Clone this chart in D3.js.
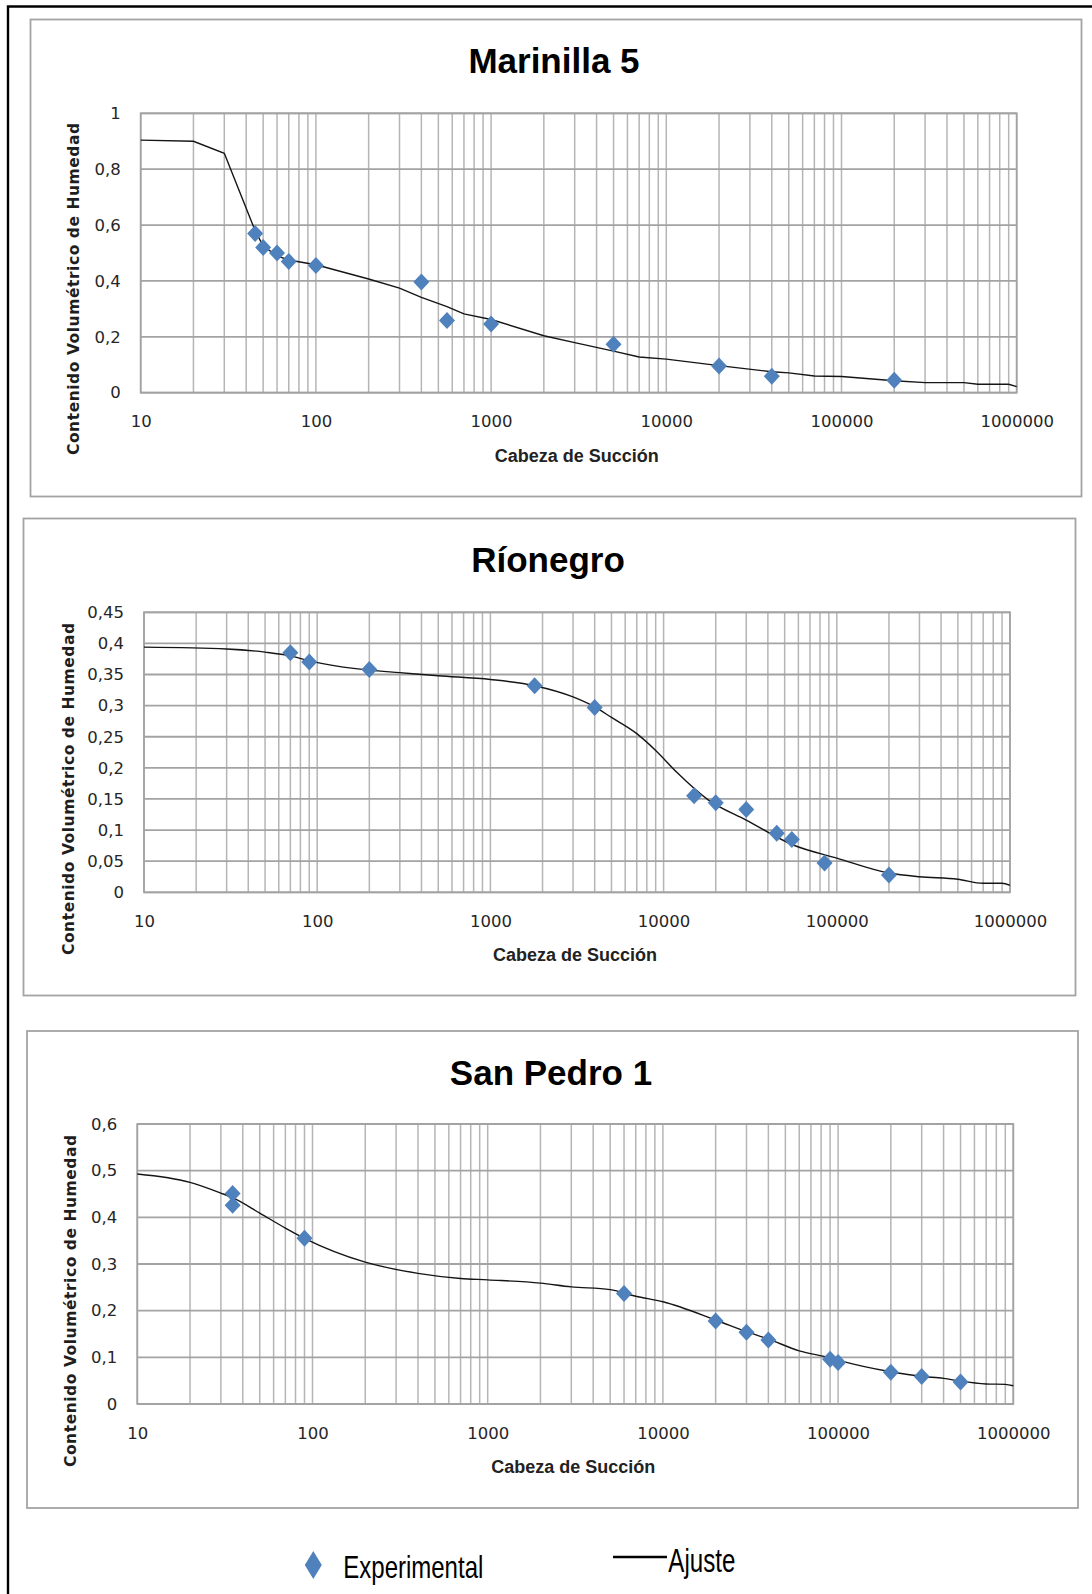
<!DOCTYPE html>
<html>
<head>
<meta charset="utf-8">
<script src="https://cdn.jsdelivr.net/npm/d3@7"></script>
<style>
  html, body { margin: 0; padding: 0; background: #fff; }
  svg { display: block; }
</style>
</head>
<body>
<svg id="fig" width="1092" height="1594"></svg>
<script>
// ---- Soil-water retention data: [suction head, volumetric water content] ----

// Marinilla 5
const marinillaExperimental = [
  [45, 0.57], [50, 0.52], [60, 0.50], [70, 0.47], [100, 0.455], [400, 0.396],
  [560, 0.258], [1000, 0.246], [5000, 0.173], [20000, 0.096], [40000, 0.059], [200000, 0.045]
];
const marinillaFit = [
  [10, 0.904], [20, 0.900], [30, 0.857], [45, 0.58], [50, 0.525], [60, 0.49], [70, 0.475],
  [100, 0.458], [200, 0.407], [300, 0.374], [400, 0.341], [560, 0.308], [700, 0.282],
  [1000, 0.262], [2000, 0.204], [3000, 0.179], [5000, 0.149], [7000, 0.128], [10000, 0.12],
  [20000, 0.097], [40000, 0.075], [50000, 0.071], [70000, 0.06], [100000, 0.058],
  [200000, 0.043], [300000, 0.036], [500000, 0.036], [600000, 0.03], [900000, 0.03], [1000000, 0.022]
];
const marinillaYTicks = [0, 0.2, 0.4, 0.6, 0.8, 1];

// Ríonegro
const rionegroExperimental = [
  [70, 0.385], [90, 0.370], [200, 0.358], [1800, 0.332], [4000, 0.297], [15000, 0.155],
  [20000, 0.144], [30000, 0.133], [45000, 0.095], [55000, 0.085], [85000, 0.047], [200000, 0.028]
];
const rionegroFit = [
  [10, 0.394], [30, 0.391], [50, 0.386], [70, 0.380], [90, 0.372], [200, 0.357], [300, 0.353],
  [500, 0.348], [1000, 0.342], [1800, 0.332], [3000, 0.314], [4000, 0.298], [5000, 0.281],
  [7000, 0.255], [9000, 0.228], [12000, 0.192], [18000, 0.149], [30000, 0.116], [56000, 0.076],
  [100000, 0.055], [200000, 0.031], [300000, 0.025], [500000, 0.021], [700000, 0.0145],
  [900000, 0.0145], [1000000, 0.011]
];
const rionegroYTicks = [0, 0.05, 0.1, 0.15, 0.2, 0.25, 0.3, 0.35, 0.4, 0.45];

// San Pedro 1
const sanPedroExperimental = [
  [35, 0.451], [35, 0.426], [90, 0.355], [6000, 0.237], [20000, 0.178], [30000, 0.154],
  [40000, 0.137], [90000, 0.096], [100000, 0.089], [200000, 0.068], [300000, 0.059], [500000, 0.047]
];
const sanPedroFit = [
  [10, 0.493], [20, 0.475], [30, 0.452], [35, 0.442], [50, 0.409], [70, 0.377], [90, 0.355],
  [200, 0.304], [400, 0.28], [700, 0.269], [1000, 0.266], [2000, 0.259], [3000, 0.251],
  [5000, 0.245], [7000, 0.231], [10000, 0.219], [20000, 0.18], [30000, 0.155], [40000, 0.139],
  [60000, 0.114], [90000, 0.099], [100000, 0.094], [200000, 0.069], [300000, 0.059],
  [400000, 0.055], [500000, 0.049], [700000, 0.043], [900000, 0.042], [1000000, 0.039]
];
const sanPedroYTicks = [0, 0.1, 0.2, 0.3, 0.4, 0.5, 0.6];

// Shared axis texts
const xTickValues = [10, 100, 1000, 10000, 100000, 1000000];
const panelTitles = ["Marinilla 5", "Ríonegro", "San Pedro 1"];
const xAxisTitle = "Cabeza de Succión";
const yAxisTitle = "Contenido Volumétrico de Humedad";
const legendLabels = ["Experimental", "Ajuste"];

// ---- Layout ----
const MARKER = "#4f81bd";
const panels = [
  { title: panelTitles[0], exp: marinillaExperimental, fit: marinillaFit, yTicks: marinillaYTicks,
    box: [30.5, 19.5, 1081.5, 496.5], plot: [140.7, 113.3, 1016.7, 392.7],
    titleX: 554, titleY: 73, yLabX: 79, yLabY: 289, curve: d3.curveLinear },
  { title: panelTitles[1], exp: rionegroExperimental, fit: rionegroFit, yTicks: rionegroYTicks,
    box: [23.5, 518.5, 1075.5, 995.5], plot: [144, 612.3, 1010, 892.3],
    titleX: 548, titleY: 572, yLabX: 73.5, yLabY: 789, curve: d3.curveMonotoneX },
  { title: panelTitles[2], exp: sanPedroExperimental, fit: sanPedroFit, yTicks: sanPedroYTicks,
    box: [27, 1031, 1078, 1508], plot: [137.3, 1124, 1013.3, 1404],
    titleX: 551, titleY: 1085, yLabX: 75.5, yLabY: 1301, curve: d3.curveMonotoneX }
];

const svg = d3.select("#fig");
svg.append("rect").attr("width", 1092).attr("height", 1594).attr("fill", "#fff");

// page frame (top and left rules)
svg.append("path").attr("d", "M8,1594V6.5H1092")
  .attr("fill", "none").attr("stroke", "#000").attr("stroke-width", 2.4);

const commaFmt = v => String(+v.toFixed(2)).replace(".", ",");
const diamond = (w, h) => `M0,${-h / 2}L${w / 2},0L0,${h / 2}L${-w / 2},0Z`;

panels.forEach(p => {
  const [bx0, by0, bx1, by1] = p.box;
  const [px0, py0, px1, py1] = p.plot;
  const yMax = p.yTicks[p.yTicks.length - 1];

  const x = d3.scaleLog().domain([10, 1000000]).range([px0, px1]);
  const y = d3.scaleLinear().domain([0, yMax]).range([py1, py0]);

  const g = svg.append("g");

  // chart area border
  g.append("rect").attr("x", bx0).attr("y", by0)
    .attr("width", bx1 - bx0).attr("height", by1 - by0)
    .attr("fill", "#fff").attr("stroke", "#a3a3a3").attr("stroke-width", 1.8);

  // title
  g.append("text").attr("x", p.titleX).attr("y", p.titleY)
    .attr("text-anchor", "middle")
    .style("font-family", "'Liberation Sans', Arial, sans-serif")
    .style("font-weight", "bold").style("font-size", "35px").attr("fill", "#000")
    .text(p.title);

  // vertical grid: every integer multiple within each decade
  const vLines = [];
  for (let e = 1; e <= 6; e++) {
    for (let m = 1; m <= 9; m++) {
      const v = m * Math.pow(10, e);
      if (v <= 1000000) vLines.push(v);
    }
  }
  g.append("g").selectAll("line").data(vLines).join("line")
    .attr("x1", d => x(d)).attr("x2", d => x(d))
    .attr("y1", py0).attr("y2", py1)
    .attr("stroke", "#b5b5b5").attr("stroke-width", 1.5);

  // horizontal grid
  g.append("g").selectAll("line").data(p.yTicks).join("line")
    .attr("x1", px0).attr("x2", px1)
    .attr("y1", d => y(d)).attr("y2", d => y(d))
    .attr("stroke", "#a3a3a3").attr("stroke-width", 1.8);

  // plot frame
  g.append("rect").attr("x", px0).attr("y", py0)
    .attr("width", px1 - px0).attr("height", py1 - py0)
    .attr("fill", "none").attr("stroke", "#a3a3a3").attr("stroke-width", 1.8);

  // axes (labels only)
  const xAxis = d3.axisBottom(x).tickValues(xTickValues)
    .tickFormat(d3.format("d")).tickSize(0).tickPadding(23);
  const xa = g.append("g").attr("transform", `translate(0,${py1})`).call(xAxis);
  const yAxis = d3.axisLeft(y).tickValues(p.yTicks)
    .tickFormat(commaFmt).tickSize(0).tickPadding(20);
  const ya = g.append("g").attr("transform", `translate(${px0},0)`).call(yAxis);
  [xa, ya].forEach(a => {
    a.select(".domain").remove();
    a.selectAll("text")
      .style("font-family", "'DejaVu Sans', Verdana, sans-serif")
      .style("font-size", "16.5px").attr("fill", "#262626");
  });

  // axis titles
  g.append("text").attr("x", (px0 + px1) / 2 - 2).attr("y", py1 + 69)
    .attr("text-anchor", "middle")
    .style("font-family", "'Liberation Sans', Arial, sans-serif")
    .style("font-weight", "bold").style("font-size", "18px").attr("fill", "#222")
    .text(xAxisTitle);

  g.append("text")
    .attr("transform", `translate(${p.yLabX},${p.yLabY}) rotate(-90)`)
    .attr("text-anchor", "middle")
    .attr("textLength", 332).attr("lengthAdjust", "spacing")
    .style("font-family", "'DejaVu Sans', Verdana, sans-serif")
    .style("font-weight", "bold").style("font-size", "15.5px").attr("fill", "#1e1e1e")
    .text(yAxisTitle);

  // fitted curve
  const line = d3.line().x(d => x(d[0])).y(d => y(d[1])).curve(p.curve);
  g.append("path").datum(p.fit).attr("d", line)
    .attr("fill", "none").attr("stroke", "#151515").attr("stroke-width", 1.4);

  // experimental points
  g.append("g").selectAll("path").data(p.exp).join("path")
    .attr("d", diamond(16, 17))
    .attr("transform", d => `translate(${x(d[0])},${y(d[1])})`)
    .attr("fill", MARKER);
});

// ---- Legend ----
const leg = svg.append("g");
leg.append("path").attr("d", diamond(17, 28))
  .attr("transform", "translate(313.3,1565)").attr("fill", MARKER);
leg.append("text").attr("x", 343.3).attr("y", 1578)
  .attr("textLength", 140).attr("lengthAdjust", "spacingAndGlyphs")
  .style("font-family", "'Liberation Sans', Arial, sans-serif")
  .style("font-size", "32px").attr("fill", "#000")
  .text(legendLabels[0]);
leg.append("line").attr("x1", 613).attr("x2", 667).attr("y1", 1557).attr("y2", 1557)
  .attr("stroke", "#000").attr("stroke-width", 2.4);
leg.append("text").attr("x", 668.3).attr("y", 1572)
  .attr("textLength", 67).attr("lengthAdjust", "spacingAndGlyphs")
  .style("font-family", "'Liberation Sans', Arial, sans-serif")
  .style("font-size", "33px").attr("fill", "#000")
  .text(legendLabels[1]);
</script>
</body>
</html>
